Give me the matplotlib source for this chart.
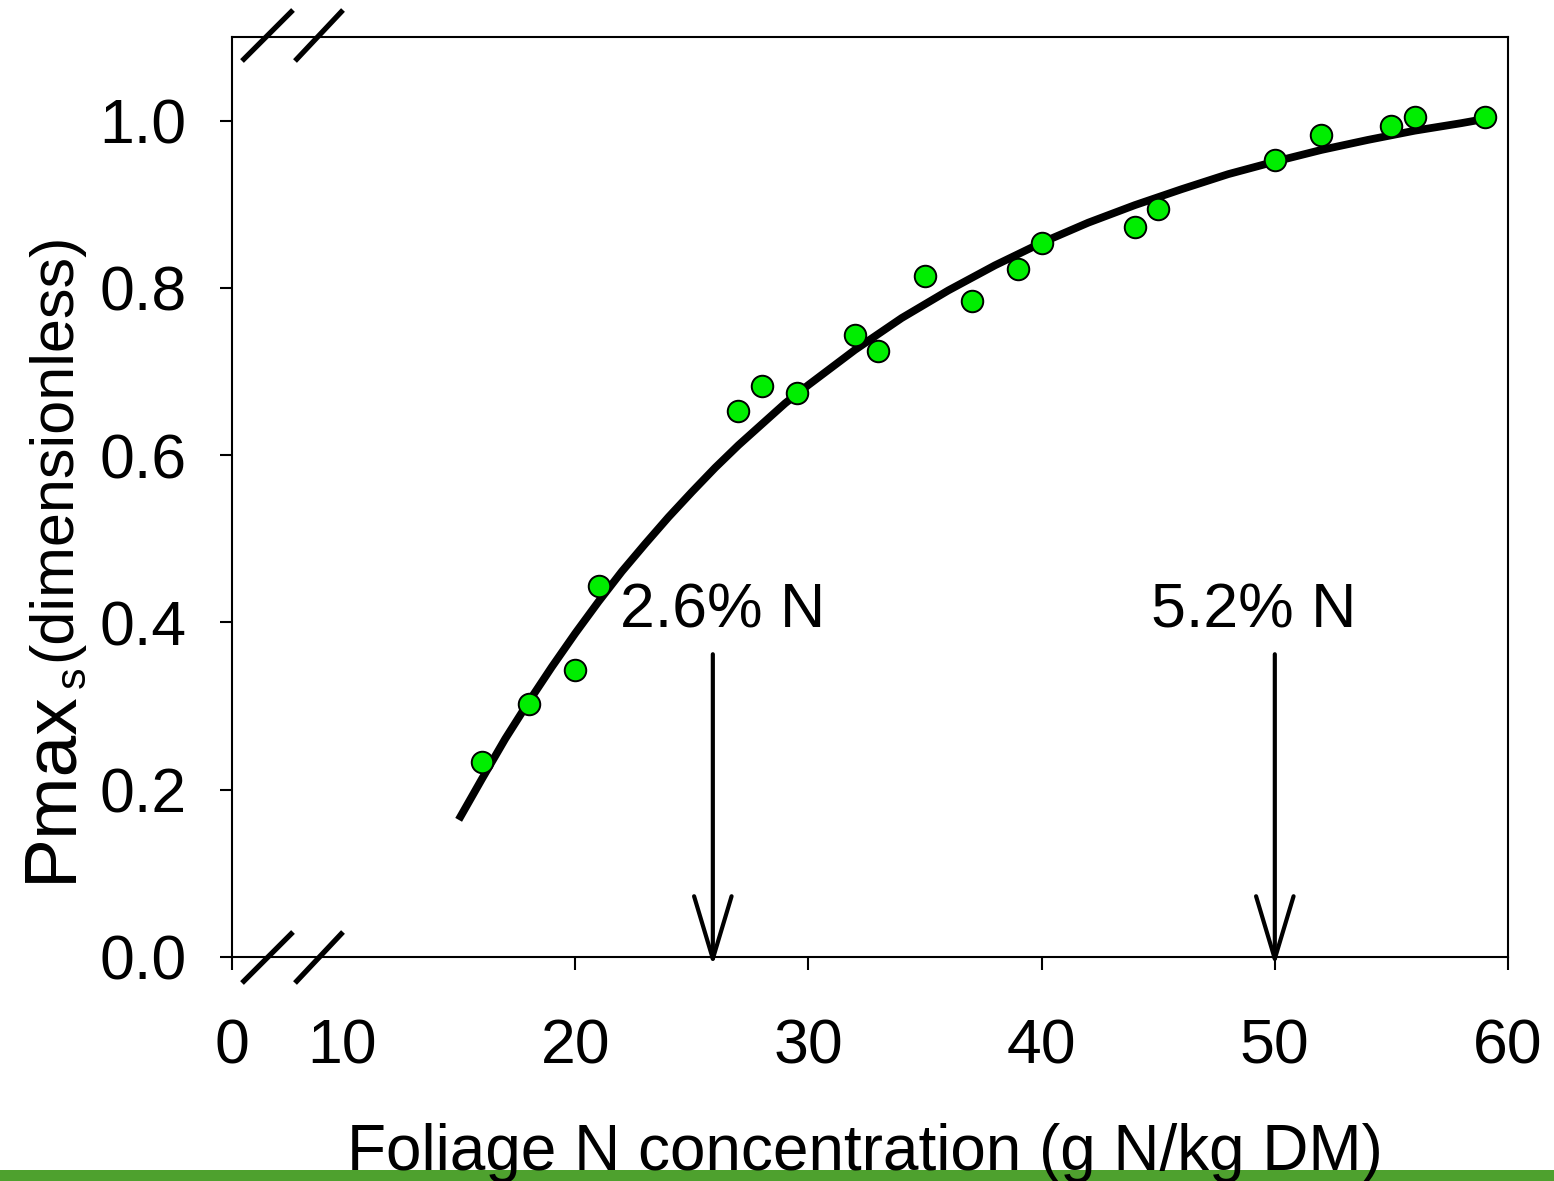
import numpy as np
import matplotlib
matplotlib.use("Agg")
import matplotlib.pyplot as plt
import matplotlib.transforms as mtransforms
from matplotlib.patches import Rectangle

plt.rcParams['font.family'] = ['Liberation Sans', 'DejaVu Sans']

# ---- data ----
obs_x = [16, 18, 20, 21, 27, 28, 29.5, 32, 33, 35, 37, 39, 40, 44, 45, 50, 52, 55, 56, 59]
obs_y = [0.233, 0.303, 0.343, 0.443, 0.653, 0.683, 0.674, 0.744, 0.724, 0.814,
         0.784, 0.823, 0.854, 0.873, 0.894, 0.953, 0.983, 0.994, 1.004, 1.004]

# fitted curve
curve_x = [15, 16, 17, 18, 19, 20, 21, 22, 23, 24, 25, 26, 27, 28, 29, 30,
           32, 34, 36, 38, 40, 42, 44, 46, 48, 50, 52, 54, 56, 58, 59]
curve_y = [0.164, 0.213, 0.261, 0.305, 0.347, 0.387, 0.425, 0.461, 0.494, 0.526,
           0.556, 0.585, 0.612, 0.637, 0.662, 0.684, 0.726, 0.764, 0.797, 0.827,
           0.854, 0.878, 0.899, 0.918, 0.936, 0.951, 0.965, 0.977, 0.988, 0.997, 1.002]

arrow_x = [25.9, 50.0]
arrow_labels = ['2.6% N', '5.2% N']
label_x = [21.93, 44.68]

xticks = [0, 10, 20, 30, 40, 50, 60]
yticks = [0.0, 0.2, 0.4, 0.6, 0.8, 1.0]

# ---- broken x axis (0..10 compressed) ----
C = 0.472
def fwd(x):
    x = np.asarray(x, float)
    return np.where(x < 10, 10 - (10 - x) * C, x)
def inv(y):
    y = np.asarray(y, float)
    return np.where(y < 10, 10 - (10 - y) / C, y)

W, H = 1554, 1181
fig = plt.figure(figsize=(W / 100, H / 100), dpi=100)
ax = fig.add_axes([232 / W, 1 - 957 / H, (1508 - 232) / W, (957 - 37) / H])
ax.set_xscale('function', functions=(fwd, inv))
ax.set_xlim(0, 60)
ax.set_ylim(0, 1.1)

ax.plot(curve_x, curve_y, color='black', lw=5.6, solid_capstyle='butt',
        solid_joinstyle='round', zorder=3)
ax.plot(obs_x, obs_y, linestyle='none', marker='o', markersize=15.5,
        markerfacecolor='#00ee00', markeredgecolor='black', markeredgewidth=1.4, zorder=4)

tip_tr = mtransforms.offset_copy(ax.transData, fig=fig, x=0, y=-9, units='dots')
for xa, lab, lx in zip(arrow_x, arrow_labels, label_x):
    ax.annotate('', xy=(xa, 0.0), xycoords=tip_tr, xytext=(xa, 0.362), textcoords='data',
                arrowprops=dict(arrowstyle='->,head_length=45,head_width=13.5',
                                lw=3.0, color='black', shrinkA=0, shrinkB=0,
                                mutation_scale=1), annotation_clip=False, zorder=5)
    ax.text(lx, 0.394, lab, fontsize=45, ha='left', va='baseline', zorder=6)

ax.set_xticks(xticks)
ax.set_xticklabels([str(t) for t in xticks])
ax.set_yticks(yticks)
ax.set_yticklabels(['%.1f' % t for t in yticks])
ax.tick_params(axis='x', direction='out', length=9.5, width=1.5, pad=34, labelsize=45)
ax.tick_params(axis='y', direction='out', length=8.6, width=1.5, pad=24, labelsize=45)
ax.xaxis.get_major_ticks()[1].tick1line.set_visible(False)
for s in ax.spines.values():
    s.set_linewidth(1.5)

# break marks on top and bottom spines
aw, ah = (1508 - 232), (957 - 37)
for (x0, x1) in [(242, 293), (295, 343)]:
    for (yb, yt) in [(983, 932), (61, 10)]:
        ax.plot([(x0 - 232) / aw, (x1 - 232) / aw],
                [(957 - yb) / ah, (957 - yt) / ah],
                transform=ax.transAxes, color='black', lw=3.8,
                solid_capstyle='butt', clip_on=False, zorder=7)

# y label pieces
fig.text(70 / W, 1 - 882 / H, 'Pmax', fontsize=54, rotation=90,
         rotation_mode='anchor', ha='left', va='baseline')
fig.text(85 / W, 1 - 688 / H, 's', fontsize=31, rotation=90,
         rotation_mode='anchor', ha='left', va='baseline')
fig.text(70 / W, 1 - 661 / H, '(dimensionless)', fontsize=44, rotation=90,
         rotation_mode='anchor', ha='left', va='baseline')

# x label
fig.text(865 / W, 1 - 1170 / H, 'Foliage N concentration (g N/kg DM)',
         fontsize=46, ha='center', va='baseline', zorder=5)

# green bar at bottom
fig.patches.append(Rectangle((0, 0), 1, 11 / H, transform=fig.transFigure,
                             facecolor='#4ea12e', edgecolor='none', zorder=-1))

fig.savefig('out.png', dpi=100)
